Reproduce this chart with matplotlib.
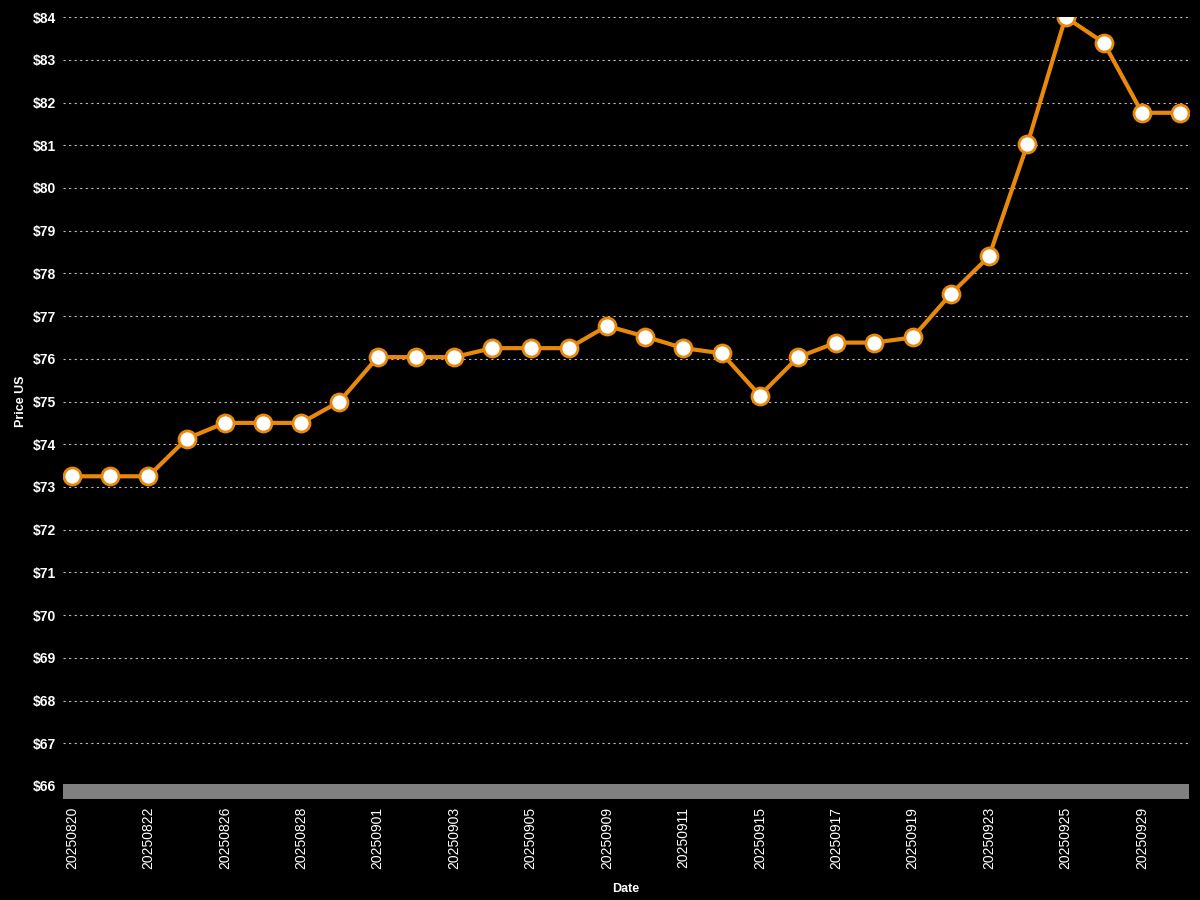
import matplotlib
matplotlib.use('Agg')
import matplotlib.pyplot as plt
from matplotlib.patches import Rectangle

dates = ['20250820', '20250821', '20250822', '20250825', '20250826', '20250827',
         '20250828', '20250829', '20250901', '20250902', '20250903', '20250904',
         '20250905', '20250908', '20250909', '20250910', '20250911', '20250912',
         '20250915', '20250916', '20250917', '20250918', '20250919', '20250922',
         '20250923', '20250924', '20250925', '20250926', '20250929', '20250930']
prices = [73.25, 73.25, 73.25, 74.13, 74.50, 74.50, 74.50, 75.00, 76.04, 76.04,
          76.04, 76.25, 76.25, 76.25, 76.77, 76.52, 76.25, 76.13, 75.14, 76.04,
          76.38, 76.38, 76.50, 77.52, 78.40, 81.02, 84.00, 83.40, 81.76, 81.76]
yticks = list(range(66, 85))

plt.rcParams['font.family'] = ['Liberation Sans', 'DejaVu Sans']

fig = plt.figure(figsize=(12, 9), dpi=100, facecolor='black')
ax = fig.add_axes([0.0525, 0.1267, 0.9385, 0.8543], facecolor='black')

x = list(range(len(dates)))
ax.plot(x, prices, color='#E8890C', lw=3, zorder=3)
# scatter markers get clipped at the axes edge (top point is cut in half)
ax.scatter(x, prices, s=150, facecolor='white', edgecolor='#E8890C',
           linewidth=2, zorder=4)

ax.set_xlim(-0.235, len(dates) - 1 + 0.235)
ax.set_ylim(66, 84)
ax.set_yticks(yticks)
ax.set_yticklabels(['$%d' % v for v in yticks])
ax.set_xticks(x[::2])
ax.set_xticklabels(dates[::2], rotation=90)

ax.grid(axis='y', color='#bbbbbb', linestyle=(0, (2, 3)), linewidth=0.8)
ax.set_axisbelow(True)
for s in ax.spines.values():
    s.set_visible(False)

ax.tick_params(axis='both', length=0, colors='white', labelsize=10)
ax.tick_params(axis='y', pad=5)
ax.tick_params(axis='x', pad=15)
for lbl in ax.get_yticklabels():
    lbl.set_fontweight('bold')

# gray band under the plot area
ax.add_patch(Rectangle((0, -0.0175), 1, 0.0195, transform=ax.transAxes,
                       facecolor='#808080', edgecolor='none', clip_on=False,
                       zorder=1))

ax.set_xlabel('Date', color='white', fontsize=9, fontweight='bold', labelpad=10)
ax.set_ylabel('Price US', color='white', fontsize=9, fontweight='bold', labelpad=4)

fig.savefig('out.png', dpi=100, facecolor='black')
